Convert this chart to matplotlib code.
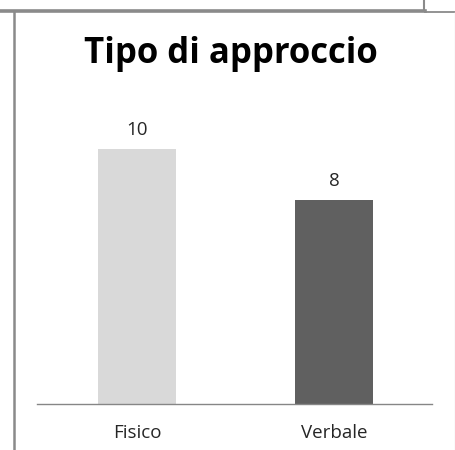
import matplotlib
matplotlib.use("Agg")
import matplotlib.pyplot as plt
from matplotlib.lines import Line2D

categories = ["Fisico", "Verbale"]
values = [10, 8]
bar_colors = ["#d9d9d9", "#606060"]
title = "Tipo di approccio"

W, H = 456, 450
fig = plt.figure(figsize=(W / 100, H / 100), dpi=100)
fig.patch.set_facecolor("white")

def fx(px):
    return px / W

def fy(py):
    return 1 - py / H

# decorative frame lines (page borders)
fig.add_artist(Line2D([fx(0), fx(425)], [fy(11), fy(11)], color="#8a8a8a", lw=2.6, transform=fig.transFigure))
fig.add_artist(Line2D([fx(424.5), fx(424.5)], [fy(0), fy(11)], color="#8a8a8a", lw=1.5, transform=fig.transFigure))
fig.add_artist(Line2D([fx(425), fx(456)], [fy(11.5), fy(11.5)], color="#8a8a8a", lw=1.3, transform=fig.transFigure))
fig.add_artist(Line2D([fx(14), fx(14)], [fy(11), fy(450)], color="#8a8a8a", lw=1.8, transform=fig.transFigure))
fig.add_artist(Line2D([fx(455.3), fx(455.3)], [fy(12), fy(450)], color="#e6e6e6", lw=1.0, transform=fig.transFigure))

# axes: baseline at y=404, x from 37 to 432
ax_left, ax_right = 37, 432
ax_bottom, ax_top = 404, 98
ax = fig.add_axes([fx(ax_left), fy(ax_bottom), fx(ax_right - ax_left), (ax_bottom - ax_top) / H])
ax.set_facecolor("none")

x = list(range(len(categories)))
bars = ax.bar(x, values, width=0.4, color=bar_colors)
ax.set_xlim(-0.508, 1.497)
ax.set_ylim(0, 12)

for spine in ["top", "right", "left"]:
    ax.spines[spine].set_visible(False)
ax.spines["bottom"].set_color("#868686")
ax.spines["bottom"].set_linewidth(1.0)
ax.set_yticks([])
ax.set_xticks(x)
ax.set_xticklabels(categories, fontsize=13.5, color="#262626", family="Open Sans")
ax.tick_params(axis="x", length=0, pad=14.5)

for b, v in zip(bars, values):
    ax.annotate(str(v), (b.get_x() + b.get_width() / 2, v), xytext=(0, 13.5),
                textcoords="offset points", ha="center", va="center",
                fontsize=13.5, color="#262626", family="Open Sans")

fig.text(fx(231), fy(54), title, ha="center", va="center", fontsize=25,
         fontweight="bold", family="Open Sans", color="black")

fig.savefig("out.png", dpi=100)
